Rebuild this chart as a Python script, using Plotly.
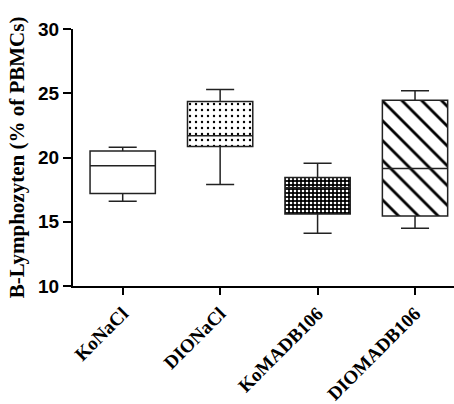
import plotly.graph_objects as go

categories = ["KoNaCl", "DIONaCl", "KoMADB106", "DIOMADB106"]
lower_whisker = [16.6, 17.9, 14.1, 14.5]
q1_vals = [17.2, 20.85, 15.6, 15.45]
medians = [19.35, 21.7, 17.65, 19.15]
q3_vals = [20.5, 24.35, 18.45, 24.45]
upper_whisker = [20.8, 25.3, 19.55, 25.2]

patterns = [
    dict(shape=""),
    dict(shape=".", fgcolor="black", bgcolor="white", size=6, solidity=0.12, fgopacity=1),
    dict(shape=".", fgcolor="white", bgcolor="black", size=4, solidity=0.35, fgopacity=1),
    dict(shape="\\", fgcolor="black", bgcolor="white", size=14, solidity=0.2, fgopacity=1),
]

fig = go.Figure()
xs = list(range(len(categories)))
for i in xs:
    fig.add_trace(go.Bar(
        x=[i], y=[q3_vals[i] - q1_vals[i]], base=[q1_vals[i]], width=0.67,
        marker=dict(color="white", pattern=patterns[i], line=dict(width=0)),
        showlegend=False, hoverinfo="skip"))
for i in xs:
    fig.add_trace(go.Box(
        x=[i], q1=[q1_vals[i]], median=[medians[i]], q3=[q3_vals[i]],
        lowerfence=[lower_whisker[i]], upperfence=[upper_whisker[i]],
        width=0.67, whiskerwidth=0.43, fillcolor="rgba(0,0,0,0)",
        line=dict(color="#222222", width=1.5), boxpoints=False,
        showlegend=False))

fig.update_layout(
    width=454, height=404,
    margin=dict(l=73, r=0, t=29, b=115),
    plot_bgcolor="white", paper_bgcolor="white",
    barmode="overlay", boxmode="overlay",
)
fig.update_xaxes(
    range=[-0.51, 3.4], tickvals=xs, ticktext=categories,
    tickangle=-45, showgrid=False, zeroline=False,
    showline=True, linecolor="black", linewidth=2,
    ticks="outside", ticklen=7, tickwidth=2, tickcolor="black",
    tickfont=dict(family="Liberation Serif", size=19, color="black", weight="bold"),
)
fig.update_yaxes(
    range=[10, 30], tickvals=[10, 15, 20, 25, 30], showgrid=False, zeroline=False,
    showline=True, linecolor="black", linewidth=2,
    ticks="outside", ticklen=8, tickwidth=2, tickcolor="black",
    tickfont=dict(family="Liberation Sans", size=19, color="black", weight="bold"),
    title=dict(text="B-Lymphozyten (% of PBMCs)", standoff=8,
               font=dict(family="Liberation Serif", size=21, color="black", weight="bold")),
)
fig.write_html("out.html")
